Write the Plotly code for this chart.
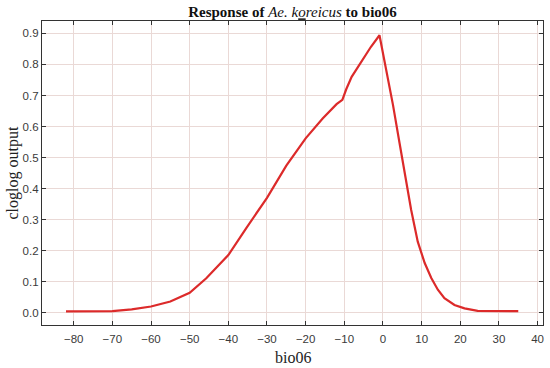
import plotly.graph_objects as go

bio06 = [-82, -70, -65, -60, -55, -50, -45.7, -40, -35.4, -30, -25, -20, -15.6, -12,
         -10.5, -9.5, -8.1, -5.6, -3.1, -0.9, 0.4, 1.7, 2.6, 4.3, 5.6, 7.3, 9.0,
         10.8, 12.5, 14.2, 15.9, 18.5, 21.1, 24.5, 35]
cloglog = [0.004, 0.005, 0.011, 0.02, 0.036, 0.064, 0.111, 0.186, 0.272, 0.370,
           0.474, 0.562, 0.626, 0.672, 0.686, 0.720, 0.760, 0.808, 0.857, 0.894,
           0.808, 0.733, 0.669, 0.546, 0.449, 0.331, 0.229, 0.160, 0.112, 0.074,
           0.047, 0.025, 0.014, 0.006, 0.005]

x_ticks = list(range(-80, 41, 10))
y_ticks = [round(i * 0.1, 1) for i in range(10)]

fig = go.Figure()
fig.add_trace(go.Scatter(x=bio06, y=cloglog, mode="lines",
                         line=dict(color="#dc2a2a", width=2.2),
                         showlegend=False, hoverinfo="skip"))

grid = "#ead9d6"
tickfont = dict(family="Liberation Sans, Arial, sans-serif", size=11.5, color="#3a3a3a")
labfont = dict(family="Liberation Serif, serif", size=16, color="#222")
fig.update_layout(
    width=550, height=368,
    margin=dict(l=42, r=7, t=21, b=43, autoexpand=False),
    paper_bgcolor="white", plot_bgcolor="white",
    title=dict(text="<b>Response of <span style='font-weight:normal'><i>Ae. k<u>o</u>reicus</i></span> to bio06</b>",
               x=0.5, xanchor="center", xref="paper", y=0.967, yanchor="middle",
               font=dict(family="Liberation Serif, serif", size=15, color="#111")),
    xaxis=dict(range=[-88.2, 41.4], tickvals=x_ticks,
               ticktext=[str(v).replace("-", "\u2212") for v in x_ticks],
               showgrid=True, gridcolor=grid, gridwidth=1, zeroline=False,
               showline=True, linecolor="#333", linewidth=1.2, mirror="ticks",
               ticks="inside", ticklen=4, tickcolor="#333", automargin=False,
               ticklabelstandoff=3, tickfont=tickfont),
    yaxis=dict(range=[-0.0396, 0.94], tickvals=y_ticks,
               ticktext=[f"{v:.1f}" for v in y_ticks],
               showgrid=True, gridcolor=grid, gridwidth=1, zeroline=False,
               showline=True, linecolor="#333", linewidth=1.2, mirror="ticks",
               ticks="inside", ticklen=4, tickcolor="#333", automargin=False,
               tickfont=tickfont),
    annotations=[
        dict(text="bio06", xref="paper", yref="paper", x=0.5, y=0, yanchor="middle",
             xanchor="center", yshift=-32, showarrow=False, font=labfont),
        dict(text="cloglog output", xref="paper", yref="paper", x=0, y=0.5, textangle=-90,
             xanchor="center", yanchor="middle", xshift=-29.5, showarrow=False, font=labfont),
    ],
)

fig.write_html("out.html", config={"displayModeBar": False},
               post_script="document.body.style.margin='0';document.body.style.overflow='hidden';")
